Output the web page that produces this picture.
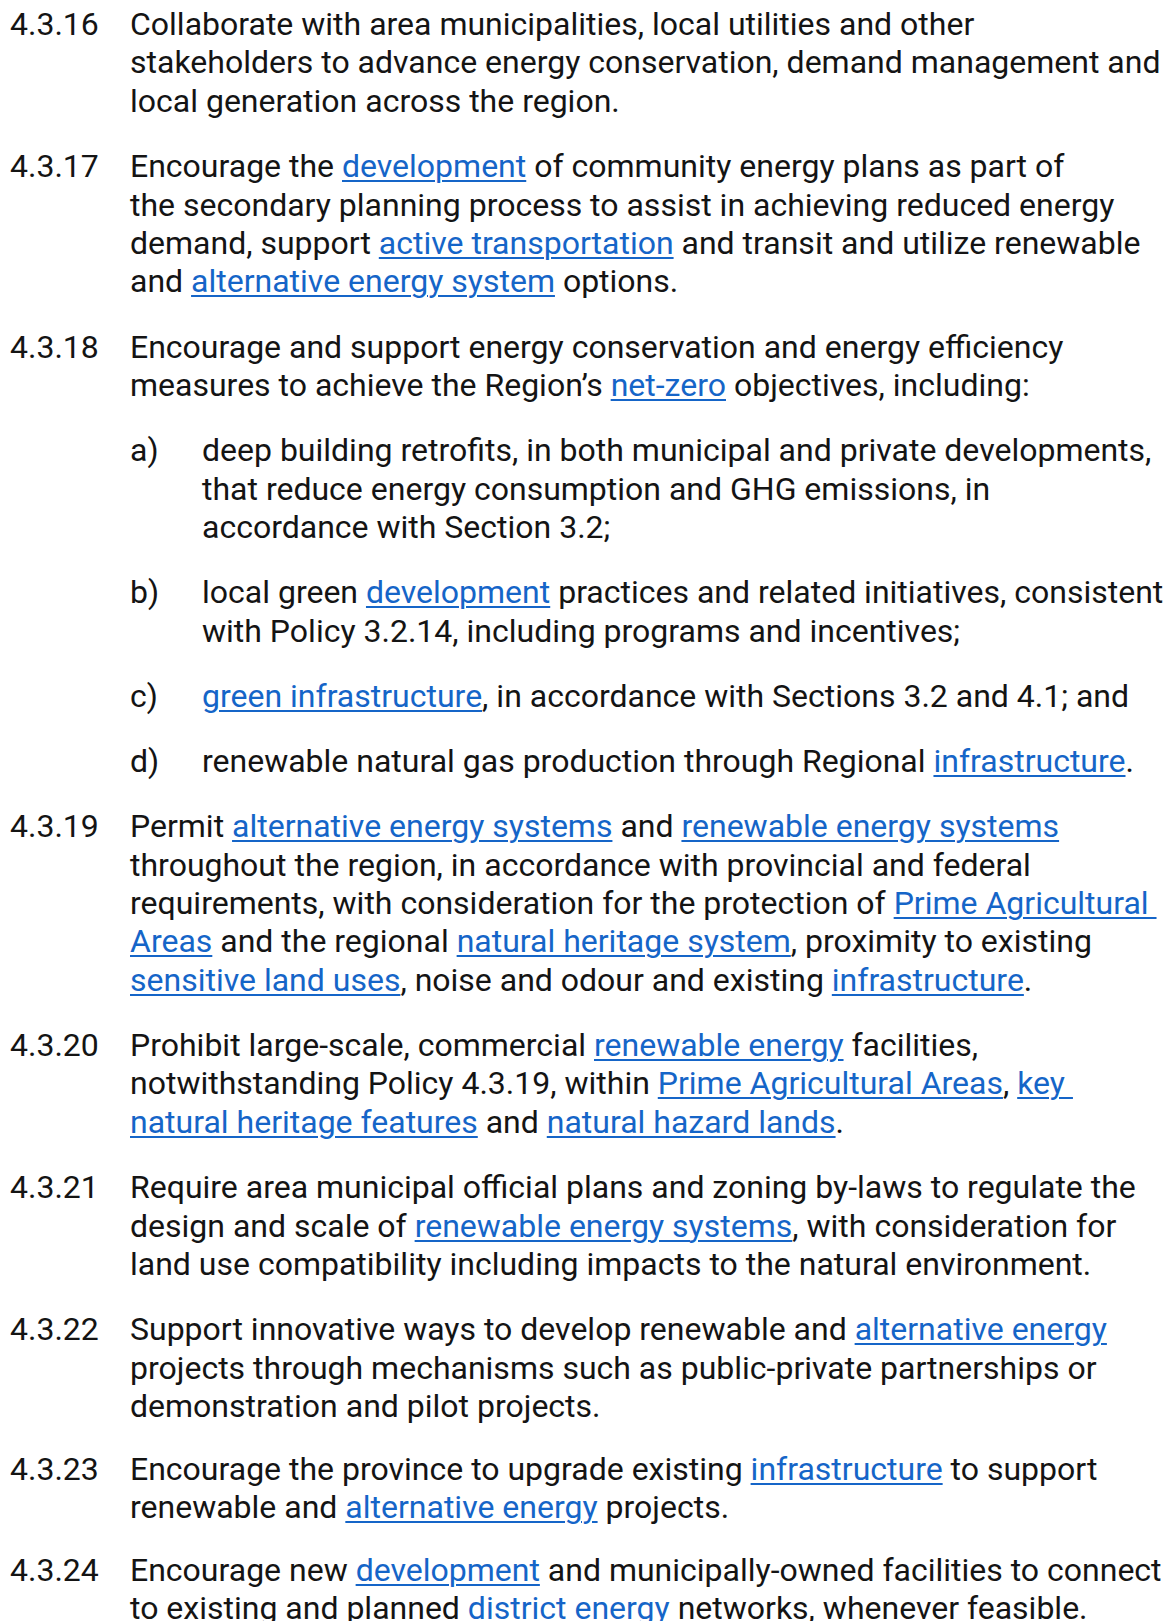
<!DOCTYPE html>
<html>
<head>
<meta charset="utf-8">
<script src="https://cdn.jsdelivr.net/npm/chart.js@4.4.1/dist/chart.umd.min.js"></script>
<style>
  html, body { margin: 0; padding: 0; background: #fff; }
  body {
    width: 1174px; height: 1621px; overflow: hidden;
    font-family: Roboto, "Noto Sans", sans-serif;
    font-size: 32px; color: #141414;
  }
  #page { position: relative; padding-top: 5px; }
  .para { position: relative; margin-bottom: 26.7px; }
  .para.tight { margin-bottom: 24.3px; }
  .num { position: absolute; left: 10px; top: 0; line-height: 38.45px; }
  .sub .num { left: 130px; }
  .body { margin-left: 130px; }
  .sub .body { margin-left: 202px; }
  .line { white-space: pre; line-height: 38.45px; }
  a { color: #1565c8; text-decoration: underline; text-decoration-thickness: 1.5px; text-underline-offset: 3px; }
</style>
</head>
<body>
<div id="page"></div>
<script>
// policy numbers / labels
const policyNumbers = ['4.3.16', '4.3.17', '4.3.18', 'a)', 'b)', 'c)', 'd)', '4.3.19', '4.3.20', '4.3.21', '4.3.22', '4.3.23', '4.3.24'];
// which entries are indented sub items
const isSubItem = [false, false, false, true, true, true, true, false, false, false, false, false, false];
// lines of each entry, [..] marks a link
const policyLines = [
  ['Collaborate with area municipalities, local utilities and other',
   'stakeholders to advance energy conservation, demand management and',
   'local generation across the region.'],
  ['Encourage the [development] of community energy plans as part of',
   'the secondary planning process to assist in achieving reduced energy',
   'demand, support [active transportation] and transit and utilize renewable',
   'and [alternative energy system] options.'],
  ['Encourage and support energy conservation and energy efficiency',
   'measures to achieve the Region\u2019s [net-zero] objectives, including:'],
  ['deep building retrofits, in both municipal and private developments,',
   'that reduce energy consumption and GHG emissions, in',
   'accordance with Section 3.2;'],
  ['local green [development] practices and related initiatives, consistent',
   'with Policy 3.2.14, including programs and incentives;'],
  ['[green infrastructure], in accordance with Sections 3.2 and 4.1; and'],
  ['renewable natural gas production through Regional [infrastructure].'],
  ['Permit [alternative energy systems] and [renewable energy systems]',
   'throughout the region, in accordance with provincial and federal',
   'requirements, with consideration for the protection of [Prime Agricultural ]',
   '[Areas] and the regional [natural heritage system], proximity to existing',
   '[sensitive land uses], noise and odour and existing [infrastructure].'],
  ['Prohibit large-scale, commercial [renewable energy] facilities,',
   'notwithstanding Policy 4.3.19, within [Prime Agricultural Areas], [key ]',
   '[natural heritage features] and [natural hazard lands].'],
  ['Require area municipal official plans and zoning by-laws to regulate the',
   'design and scale of [renewable energy systems], with consideration for',
   'land use compatibility including impacts to the natural environment.'],
  ['Support innovative ways to develop renewable and [alternative energy]',
   'projects through mechanisms such as public-private partnerships or',
   'demonstration and pilot projects.'],
  ['Encourage the province to upgrade existing [infrastructure] to support',
   'renewable and [alternative energy] projects.'],
  ['Encourage new [development] and municipally-owned facilities to connect',
   'to existing and planned [district energy] networks, whenever feasible.']
];

function buildLine(text) {
  const div = document.createElement('div');
  div.className = 'line';
  text.split(/(\[[^\]]*\])/).forEach(part => {
    if (!part) return;
    if (part.startsWith('[')) {
      const a = document.createElement('a');
      a.href = '#';
      a.textContent = part.slice(1, -1);
      div.appendChild(a);
    } else {
      div.appendChild(document.createTextNode(part));
    }
  });
  return div;
}

const page = document.getElementById('page');
policyNumbers.forEach((num, i) => {
  const para = document.createElement('div');
  para.className = 'para' + (isSubItem[i] ? ' sub' : '') + (i >= 10 ? ' tight' : '');
  const n = document.createElement('div');
  n.className = 'num';
  n.textContent = num;
  para.appendChild(n);
  const body = document.createElement('div');
  body.className = 'body';
  policyLines[i].forEach(l => body.appendChild(buildLine(l)));
  para.appendChild(body);
  page.appendChild(para);
});
</script>
</body>
</html>
